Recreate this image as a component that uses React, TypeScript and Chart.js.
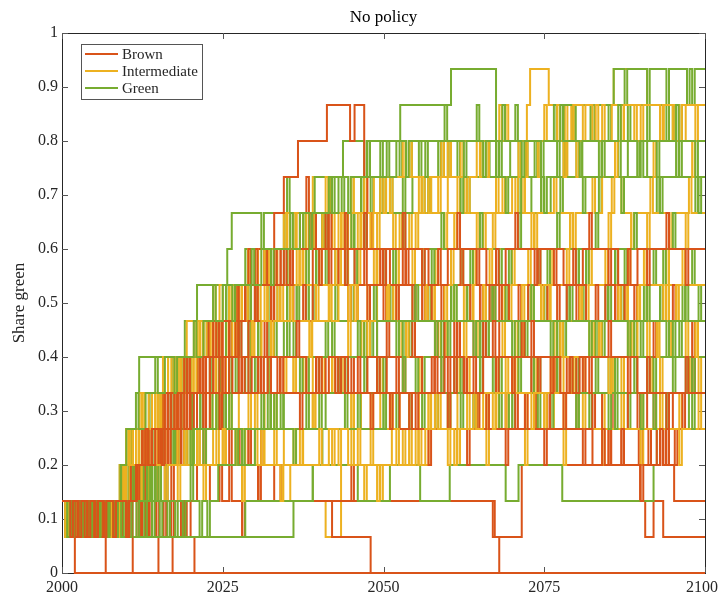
import React, { useEffect, useRef } from "react";
import { Chart, registerables } from "chart.js";

Chart.register(...registerables);

// ---- data -------------------------------------------------------------
// Each run is a list of change points "t:k" (from year 2000 + t the run has
// k green agents out of 15, k written as a hex digit) and brief one-step
// excursions "t!k" (k agents at year 2000 + t, then back to the previous k).
const FIRST_YEAR = 2000;
const LAST_YEAR = 2100;
const AGENTS = 15;
const STEP_YEARS = 0.4;
const xTickValues = [2000, 2025, 2050, 2075, 2100];
const yTickValues = [0, 0.1, 0.2, 0.3, 0.4, 0.5, 0.6, 0.7, 0.8, 0.9, 1];
const legendLabels = ["Brown", "Intermediate", "Green"];
const titleText = "No policy";
const yAxisTitle = "Share green";

const brownRuns = [
  "0:2 .5:1 1:2 1.5:1 2:0",
  "0:2 1:1 1.4:2 2.5!1 3.5:1 4:2 5!1 6:1 6.8:0",
  "0:2 1!1 2.2!1 3:1 3.4:2 4.6!1 5.8!1 7:1 7.5:2 8.5!1 9.5:1 10!2 11:0",
  "0:2 .8!1 3!1 4.5!1 6.3!1 8:1 8.4:2 10!1 11.6!1 13:1 13.5:2 14.7!1 16!3 17!1 18.5:1 19:2 20:1 20.6:0",
  "0:2 1.5!1 3.3!1 5:1 5.3:2 7!1 9!1 10.5!1 12:1 12.3:2 13.6!1 14.5:1 15:0",
  "0:2 2.5!1 4!1 6!1 8!1 10!1 11.5!3 12.5!1 13.2!1 14.5!3 15.8!1 16.8:1 17.2:0",
  "0:2 1!1 3!1 5!1 7!1 9!1 11:3 12.5!2 14:3 15.2!4 16:2 17!3 19!1 21:3 22!4 23:2 24.5!3 26!3 28!1 30.5!3 33:2 42:1 48:0",
  "0:2 2!1 4!1 6!1 8!1 10!1 11.5:3 13!4 14.5:3 16.5!4 18:4 19.5!5 21:5 22!4 23.5!6 25:4 26!3 27.5:3 29!4 30.5!2 32:3 34:2 45!3 67:1 68:0",
  "0:2 1.5!1 3!1 4.5!1 6!1 7.5!1 9!1 11:3 12.5!4 14:4 15!3 16.5:5 18!4 19.5:5 21!6 22:5 23:4 24.5!5 26:4 27.5!3 29:3 31!4 33:2 67.3:1 71.5:3 85!4 89.9:2 90.7:1 92:2 93.5:1",
  "0:2 1!1 3!1 5!1 7!1 9!1 11:3 12.5!4 14:4 15.5!5 17:5 18.5!4 19.5:6 21!5 22.5:6 23.5!7 25:7 26!6 27.5:8 29!9 30:9 31.5!8 33:a 34.5:b 36.7:c 41.2:d 44.8:c 45.5:d 47:b 47.5:a 48.2:9 49.5!8 51:8 52!7 53.5!9 55:7 56.5!8 58!6 59.5:6 61!7 62.5!5 64:7 65.5!6 67!8 68:6 70!5 71.5!7 73:5 74!6 75.5!4 77:6 78.5!5 80:5 81!6 82.5!4 84:4 85.5!5 87!3 88:5 89.5!4 91:4 92!5 93.5!3 95:5 96.5!4 98!6",
  "0:2 2!1 3.5!1 5!1 6.5!1 8!1 10!1 11.8:3 13!4 14.5:4 16!3 17.5:4 19!5 20.5:5 22!4 23:6 24.5!5 26:6 27.5!7 29:7 30!8 31.5!6 33:8 34.5!9 36:7 37.5!8 39:9 40!8 41.5!a 43:8 44.5!7 46:7 47.5!8 49:6 50.5!7 52:6 53!5 54.5!7 56:5 57.5!6 59:6 60!5 61.5!7 63:5 64.5!4 66:5 67.5!6 69:4 70.5!5 72:5 73.5!4 75:5 76.5!6 78:5 80:4 85!3 89.7:3 90.3:4 91.2!3 92.5:3 93:4 94!3 95.3!3",
  "0:2 1!1 2.5!1 4!1 5.5!1 7!1 9!1 10.5!1 12:3 13.5!4 15:4 16.5!3 18:5 19.5!6 21:6 22!5 22.8:7 24!6 25.5:7 27!8 28.5:8 30!9 31:8 32.5!7 34:9 35.5!8 37:9 38.5!a 40:9 41.5!8 43:9 44!a 45.5:8 47!9 48.5:8 50!7 51.5:8 53!9 54.5:7 56!8 57.5:8 59!7 60.5:8 62!9 63.5:7 65!8 66.5:8 68!7 69.5:7 71!8 72.5:8 74!9 75.5:7 77!8 78.5:8 80!7 81.5:7 83!8 84.5:8 86!7 87.5:7 89!8 90.5:7 92!6 93.5:7 95!8 96.5:7 98!6",
  "0:2 1.5!1 3!1 4.5!1 6!1 7.5!1 9!1 10.7:3 12.5!4 14:4 15!3 16.5:4 17.5!5 18.5!3 20:5 21.5!6 23:5 24.5!4 26:6 27.5!5 29:5 30.5!6 32:6 33.5!5 35:6 36.5!7 38:5 39.5!6 41:6 42.5!5 44:5 45!6 46.5:5 48!4 49.5:5 51!4 52.5:4 54!5 55.5:4 57!3 58.5:4 60!5 61.5:4 63!3 64.5:4 66!5 67.5:4 69!3 70.5:4 72!5 73.5:4 75!3 76.5:4 78!5 79.5:4 81!3 82.5:3 84!4 85.5:3 87!4 88.5:3 90!2 91.5:3 93!4 94.5:3 95.2:2",
  "0:2 2!1 3.5!1 5!1 6.5!1 8!1 10!1 11.6:3 13!4 14.5:4 16!5 17.5:5 19!6 20:5 21.5!6 23:6 24.5!7 26:7 27!6 28.5:8 30!7 31.5:8 33!9 34:9 35.5!8 37:a 38!b 39.5:9 41!a 42.5:9 44!8 45.5:9 47!a 48.5:9 50!8 51.5:9 53!a 54.5:9 56!8 57:8 58.5!9 60:9 61.5!a 63:9 64.5!8 66:8 67.5!9 69:9 70.5!a 72:9 73.5!8 75:9 76.5!8 78:8 79.5!9 81:9 82!a 83.5:9 85!8 86.5:8 88!9 89.5:9 91!8 92.5:9 94!a 95.5:9 97!8 98.5:9",
  "0:2 1.3!1 2.6!1 4!1 5.2!1 6.5!1 8!1 10!1 11.5:3 13!4 14:4 15.5!3 16.5!5 18:5 19!4 20.5:5 22!6 23.5:6 25!5 26.5:5 28!6 29.5:6 31!5 32.5:5 34!6 35.5:5 37!4 38.5:5 40!6 41.5:6 43!5 44.5:5 46!6 47.5:6 49!5 50.5:5 52!6 53.5:5 55!4 56.5:5 58!6 59.5:6 61!5 62.5:5 64!6 65.5:6 67!7 68.5:6 70!5 71.5:6 73!7 74.5:6 76!5 77.5:5 79!6 80.5:6 82!5 83.5:6 85!7 86.5:6 88!5 89.5:5 91!6 92.5:5 94!4 95.5:5 97!6 98.5:5",
];

const intermediateRuns = [
  "0:2 1.5!1 3!1 4.5!1 6!1 7.5!1 9.2:3 10!4 11:4 12.5!5 14:5 15!4 16.5:6 18!5 19.5:6 21!7 22:7 23.5!6 25:7 26.5!8 28:8 29!7 30.5:8 32!9 33.5:9 35!8 36:9 37.5!a 38.5:a 39:b 41.7:a 43!9 44.5:9 46!a 47.5:9 49!8 50:9 51.5!a 53:a 54!9 55.5:a 57!b 58:a 59.5!9 61:a 62.5!b 64:a 65.5!9 67:a 68.5!b 70:b 71.5!a 72.3:d 72.8:e 75.7:d 78.2!b 79.2!c 85.8:e 91:d 93.6:c 95!d 97:d 98.5!c",
  "0:2 1!1 2.2!1 3.5!1 5!1 6.5!1 8!1 9.3:3 10.5!4 12:3 13.5!4 15:4 16!3 17.5:3 19!4 20.5:4 22!3 23.5:3 25!4 26.5:3 28!2 29.5:3 31!4 32.5:3 34!2 35.5:2 41:1 43.4:3 45!4 47!2 49.5!2 51.3:4 53!3 54:3 55.5!4 57:4 58.5!5 60:4 61.5!3 63:4 64.5!5 66:5 67.5!4 69:5 70.5!6 72:5 73.5!4 75:5 76.5!6 78:6 79.5!5 81:6 82.5!7 84:6 85.5!5 87:6 88.5!7 90:6 91.5!5 93:6 94.5!7 96:6 97.5!5 99:6",
  "0:2 1.5!1 3!1 4.5!1 6!1 7.5!1 9.6:3 10.5:4 12!3 13:4 14.5!5 15.7:6 17!5 18:6 19.4:7 21!6 22:7 23.5!8 25:8 26!7 27.5:8 29!9 30:9 31.5!8 33:9 34.5!a 36:9 37.5!8 39:a 40.5!9 42:a 43.5!9 45:9 46.5!a 48:a 49.5!b 51:a 52.5!9 54:a 55.5!b 57:b 58.5!a 60:a 61.5!b 63:a 64.5!9 66:a 67.5!b 69:b 70.5!a 72:a 73.5!9 75:a 76.5!b 78:a 79.5!9 81:a 82.5!b 84:b 85.5!a 87:a 88.5!9 90:a 91.5!b 93:a 94.5!9 96:a 97.5!b 99:a",
  "0:2 1!1 2.5!1 4!1 5.5!1 7!1 8.5!1 9.5:3 10.5:4 12!5 13:4 14.5!5 16:5 17.5!6 19:6 20!5 21.5:6 23!7 24:6 25.5!7 27:7 28.5!8 30:7 31.5!8 33:8 34!7 35.5:8 37!9 38.5:8 40!9 41.5:8 43!9 44.5:9 46!8 47.5:9 49!a 50.5:9 52!8 53.5:9 55!a 56.5:9 58!8 59.5:9 61!a 62.5:9 64!8 65.5:9 67!a 68.5:9 70!8 71.5:9 73!a 74.5:9 76!8 77.5:9 79!a 80.5:9 82!8 83.5:9 85!a 86.5:9 88!8 89.5:9 91!a 92.5:9 94!8 95.5:9 97!a 98.5:9",
  "0:2 1.2!1 2.8!1 4.2!1 5.5!1 7!1 8.5!1 9.7:3 11:3 12.5!4 14:4 15.5!5 17:4 18.5!5 20:5 21!6 22.5:5 24!6 25.5:6 27!7 28:6 29.5!7 31:7 32.5!6 34:7 35.5!8 37:7 38.5!6 40:7 41.5!8 43:7 44.5!6 46:7 47.5!8 49:8 50.5!7 52:7 53.5!6 55:7 56.5!8 58:7 59.5!6 61:7 62.5!8 64:8 65.5!7 67:7 68.5!8 70:7 71.5!6 73:7 74.5!8 76:7 77.5!6 79:7 80.5!8 82:7 83.5!6 85:7 86.5!8 88:8 89.5!7 91:7 92.5!6 94:7 95.5!8 97:7 98.5!6",
  "0:2 .8!1 2.2!1 3.5!1 5:2 6.5!1 8:2 9!3 10.5:3 12!2 13:3 14.5!4 16:3 17.5!4 19:4 20!3 21.5:4 23!5 24.5:4 26!5 27.5:5 29!4 30.5:5 32!6 33:5 34.5!6 36:6 37.5!5 39:5 40.5!6 42:6 43.5!5 45:6 46.5!7 48:6 49.5!5 51:6 52.5!7 54:6 55.5!5 57:6 58.5!7 60:6 61.5!5 63:6 64.5!7 66:6 67.5!5 69:6 70.5!7 72:6 73.5!5 75:6 76.5!7 78:6 79.5!5 81:6 82.5!7 84:6 85.5!5 87:6 88.5!7 90:6 91.5!5 93:6 94.5!7 96:6 97.5!5 99:6",
  "0:2 1.5!1 3!1 4.5!1 6!1 7.5!1 9:3 10!4 11:4 12!5 13.5:5 15!4 16:5 17.5!6 19:6 20.5!7 22:7 23!6 24.5:8 26!7 27.5:8 29!9 30.5:9 32!8 33.5:9 35!a 36.5:a 38!9 39.5:a 41!b 42.5:a 44!9 45.5:a 47!b 48.5:b 50!a 51.5:b 53!c 54.5:b 56!a 57.5:b 59!c 60.5:c 62!b 63.5:c 65!b 66.5:c 68!d 69.5:c 71!b 72.5:c 74!b 75.5:c 77!d 78.5:c 80!b 81.5:c 83!d 84.5:c 86!b 87.5:c 89!d 90.5:c 92!b 93.5:c 95!d 96.5:c 98!b",
  "0:2 .6!1 1.8!1 3:2 4.2!1 5.5:2 7!1 8:2 9.5!1 11:2 12!3 13.5:3 15!2 16.5:3 18!4 19.5:4 21!3 22.5:4 24!5 25.5:4 27!3 28.5:4 30!5 31.5:5 33!4 34.5:5 36!6 37.5:5 39!4 40.5:5 42!6 43.5:5 45!4 46.5:4 48!5 49.5:5 51!4 52.5:4 54!5 55.5:5 57!4 58.5:4 60!5 61.5:5 63!6 64.5:5 66!4 67.5:5 69!6 70.5:5 72!4 73.5:4 75!5 76.5:5 78!4 79.5:5 81!6 82.5:5 84!4 85.5:5 87!6 88.5:5 90!4 91.5:5 93!6 94.5:5 96!4 97.5:5 99!6",
  "0:2 1.6!1 3!1 4.2!1 5.5!1 7!1 8.5!1 9.5:3 10!4 11:4 12.5!5 14:5 15.5!4 17:5 18.5!6 20:6 21.5!7 23:6 24.5!7 26:7 27.5!8 29:7 30.5!8 32:8 33.5!7 35:8 36.5!9 38:8 39.5!7 41:8 42.5!9 44:8 45.5!7 47:8 48.5!9 50:8 51.5!7 53:8 54.5!9 56:8 57.5!7 59:8 60.5!9 62:8 63.5!7 65:8 66.5!9 68:8 69.5!7 71:8 72.5!9 74:8 75.5!7 77:8 78.5!9 80:8 81.5!7 83:8 84.5!9 86:8 87.5!7 89:8 90.5!9 92:8 93.5!7 95:8 96.5!9 98:8",
  "0:2 1.2!1 2.6!1 4!1 5.5!1 7!1 8.5!1 9.6:3 11:4 12.5!5 14:5 15!4 16.5:6 18!5 19.5:6 21!7 22.5:7 24!6 25.5:7 27!8 28.5:8 30!9 31.5:9 33!8 34.5:9 36!a 37.5:9 39!a 40.5:a 42!9 43.5:a 45!b 46.5:a 48!9 49.5:b 51!a 52.5:b 54!c 55.5:b 57!a 58.5:b 60!c 61.5:b 63!a 64.5:c 66!b 67.5:c 69!d 70.5:c 72!b 73.5:c 75!d 76.5:c 78!b 79.5:d 81!c 82.5:c 84!d 85.5:d 87!c 88.5:d 90!c 91.5:d 93!c 94.5:d 96!c 97.5:d",
  "0:2 .7!1 1.5!1 2.8!1 4:2 5.3!1 6.5!1 7.8:2 9!3 10.5:3 12!2 13.5:3 15!4 16.5:3 18!2 19.5:3 21!4 22.5:3 24!4 25.5:4 27!3 28.5:3 30!4 31.5:4 33!3 34.5:3 36!4 37.5:4 39!5 40.5:4 42!3 43.5:4 45!5 46.5:4 48!3 49.5:4 51!5 52.5:4 54!3 55.5:4 57!5 58.5:4 60!3 61.5:4 63!5 64.5:4 66!3 67.5:4 69!5 70.5:4 72!3 73.5:4 75!5 76.5:4 78!3 79.5:4 81!5 82.5:4 84!3 85.5:4 87!5 88.5:4 90!3 91.5:4 93!5 94.5:4 96!3 97.5:4 99!5",
  "0:2 1!1 2.3!1 3.6:2 5!1 6.2!1 7.5!1 9!1 10:3 11.5!4 13:4 14.5!3 16:4 17.5!5 19:5 20.5!6 22:5 23.5!6 25:6 26.5!7 28:6 29.5!7 31:7 32.5!6 34:7 35.5!8 37:7 38.5!6 40:7 41.5!8 43:8 44.5!7 46:7 47.5!6 49:7 50.5!8 52:7 53.5!6 55:7 56.5!8 58:8 59.5!7 61:7 62.5!6 64:7 65.5!8 67:7 68.5!6 70:7 71.5!8 73:8 74.5!7 76:7 77.5!6 79:7 80.5!8 82:7 83.5!6 85:7 86.5!8 88:8 89.5!7 91:7 92.5!6 94:7 95.5!8 97:7 98.5!6",
  "0:2 .5!1 1.7!1 3:2 4.5!1 6:2 7.3!1 8.6!1 9.8:3 11.5:3 13!4 14.5:3 16!2 17.5:3 19!4 20.5:3 22!2 23.5:3 25!4 26.5:3 28!2 29.5:3 31!4 32.5:3 34!2 35.5:3 37!4 38.5:3 40!4 41.5:4 43!3 44.5:3 46!4 47.5:3 49!2 50.5:3 52!4 53.5:3 55!4 56.5:4 58!5 59.5:4 61!3 62.5:4 64!5 65.5:5 67!4 68.5:5 70!6 71.5:5 73!4 74.5:5 76!6 77.5:6 79!5 80.5:6 82!7 83.5:6 85!5 86.5:6 88!7 89.5:7 91!6 92.5:7 94!8 95.5:7 97!6 98.5:7",
];

const greenRuns = [
  "0:2 1.5!1 3:2 5!1 7!1 9:3 11:4 12:6 17.3:5 18.5!6 19.1:7 21:8 25.7:9 26.4:a 31!9 35!b 39.3:b 43.7:c 47!b 52.6:d 60.5:e 67.5:c 69.7:b 71!a 73:a 74.5!b 76:b 77.5!a 79:b 80.5!c 82:b 83.5!a 85:b 86.5!c 88:c 89.5!b 91:b 92.5!a 94:b 95.5!c 97:b 98.5!a",
  "0:2 1!1 2.5!1 4:2 6!1 7.5:2 9:3 10.5!4 12:4 13.5!5 15:5 16.5!4 18:5 19.5!6 21:6 22.5!7 24:7 25.5!8 27:8 28.5!9 30:9 31.5!8 33:9 34.5!a 36:9 37.5!a 39:a 40.5!9 42:a 43.5!b 45:b 46.5!a 48:b 49.5!c 51:b 52.5!c 54:c 55.5!b 57:c 58.5!b 60:c 61.5!b 63:c 64.5!d 66:c 67.5!b 69:c 70.5!d 72:c 73.5!b 75:c 76.5!d 78:d 79.5!c 81:d 82.5!c 84:d 85.8:e 87.5!d 91!d 94!d 97.2!d 98!d",
  "0:2 .7!1 2!1 3.4!1 5:2 6.5!1 8:2 9.5:3 11!2 12.5:3 14!4 15.5:4 17!5 18.5:5 20!4 21.5:5 23!6 24.5:6 26!7 27.5:7 29!8 30.5:8 32!7 33.5:8 35!9 36.5:8 38!9 39.5:9 41!a 42.5:9 44!a 45.5:a 47!9 48.5:a 50!b 51.5:a 53!b 54.5:b 56!a 57.5:b 59!c 60.5:b 62!a 63.5:b 65!c 66.5:c 68!b 69.5:c 71!b 72.5:c 74!b 75.5:c 77!b 78.5:c 80!b 82.2:d 85!c 88!c 91!c 94!c 95!c 96!c",
  "0:2 1.3!1 2.6!1 4:2 5.3!1 7:2 9.2:3 10!2 11:3 12.5!4 14:4 15.5!5 17:5 18.5!6 20:6 21!5 22.5:6 24!7 25.5:7 27!8 28.5:8 30!7 31.5:8 33!9 34.5:9 36!a 37.5:9 39!a 40.5:a 42!b 43.5:a 45!9 46.5:a 48!b 49.5:b 51!a 52.5:b 54!c 55.5:b 57!a 58.5:b 60!c 61.5:b 63!a 64.5:b 66!c 67.5:b 69!a 70.5:b 72!c 73.5:b 75!a 76.5:b 78!c 79.5:b 81!a 82.5:b 84!c 85.5:b 87!a 88.5:b 90!c 91.5:b 93!a 94.5:b 96!c 97.5:b 99!a",
  "0:2 .9!1 2.1!1 3.5:2 5!1 6.5:2 8!1 9.5:3 11!2 12.5:3 14!4 15.5:4 17!3 18.5:4 20!5 21.5:5 23!6 24.5:6 26!5 27.5:6 29!7 30.5:7 32!6 33.5:7 35!8 36.5:8 38!7 39.5:8 41!9 42.5:9 44!8 45.5:9 47!a 48.5:9 50!8 51.5:9 53!a 54.5:9 56!8 57.5:9 59!a 60.5:9 62!8 63.5:9 65!a 66.5:9 68!8 69.5:9 71!a 72.5:9 74!8 75.5:9 77!a 78.5:9 80!8 81.5:9 83!a 84.5:9 86!8 87.5:9 89!a 90.5:9 92!8 93.5:9 95!a 96.5:9 98!8",
  "0:2 1.1!1 2.4!1 3.7!1 5:2 6.2!1 7.4!1 8.7:2 10!3 11.3:3 12.8!2 14:3 15.5!4 17:4 18.5!5 20:5 21.5!4 23:5 24.5!6 26:6 27.5!7 29:7 30.5!6 32:7 33.5!8 35:8 36.5!7 38:8 39.5!9 41:8 42.5!7 44:8 45.5!9 47:8 48.5!7 50:8 51.5!9 53:8 54.5!7 56:8 57.5!9 59:8 60.5!7 62:8 63.5!9 65:8 66.5!7 68:8 69.5!9 71:8 72.5!7 74:8 75.5!9 77:8 78.5!7 80:8 81.5!9 83:8 84.5!7 86:8 87.5!9 89:8 90.5!7 92:8 93.5!9 95:8 96.5!7 98:8",
  "0:2 .5!1 1.6!1 2.8!1 4!1 5.2!1 6.4!1 7.6!1 9!1 10.2:1 11:2 12.3!3 13.6:3 15!2 16.5:3 18!4 19.5:4 21!3 22.5:4 24!5 25.5:5 27!6 28.5:6 30!5 31.5:6 33!7 34.5:7 36!6 37.5:7 39!8 40.5:7 42!6 43.5:7 45!8 46.5:7 48!6 49.5:7 51!8 52.5:7 54!6 55.5:7 57!8 58.5:7 60!6 61.5:7 63!8 64.5:7 66!6 67.5:7 69!8 70.5:7 72!6 73.5:7 75!8 76.5:7 78!6 79.5:7 81!8 82.5:7 84!6 85.5:7 87!8 88.5:7 90!6 91.5:7 93!8 94.5:7 96!6 97.5:7 99!8",
  "0:2 .7!1 1.9!1 3.1!1 4.3!1 5.5!1 6.7!1 8:1 8.6:2 10!1 11.2!3 12.5:3 14!2 15.5:3 17!4 18.5:4 20!3 21.5:4 23!5 24.5:5 26!4 27.5:5 29!6 30.5:6 32!5 33.5:6 35!7 36.5:6 38!5 39.5:6 41!7 42.5:6 44!5 45.5:6 47!7 48.5:6 50!5 51.5:6 53!7 54.5:6 56!5 57.5:6 59!7 60.5:6 62!5 63.5:6 65!7 66.5:6 68!5 69.5:6 71!7 72.5:6 74!5 75.5:6 77!7 78.5:6 80!5 81.5:6 83!7 84.5:6 86!5 87.5:6 89!7 90.5:6 92!5 93.5:6 95!7 96.5:6 98!5",
  "0:2 1!1 2.2!1 3.4!1 4.6!1 5.8!1 7!1 8.2!1 9.4:3 10.6!2 12:2 13.3!3 14.6:3 16!2 17.5:3 19!4 20.5:4 22!3 23.5:4 25!5 26.5:4 28!3 29.5:4 31!5 32.5:5 34!4 35.5:5 37!6 38.5:5 40!4 41.5:5 43!6 44.5:5 46!4 47.5:5 49!6 50.5:5 52!4 53.5:5 55!6 56.5:5 58!4 59.5:5 61!6 62.5:5 64!4 65.5:5 67!6 68.5:5 70!4 71.5:5 73!6 74.5:5 76!4 77.5:5 79!6 80.5:5 82!4 83.5:5 85!6 86.5:5 88!4 89.5:5 91!6 92.5:5 94!4 95.5:5 97!6 98.5:5",
  "0:2 1:1 28.5:2 39:3 46:2 51:3 55.7:2 60.3:3 69:2 71:3 77.8:2 92:3 92.5:4 97.5:5",
  "0:2 1:1 36:2 39:3 40.5:4 50:5 54!4 60!4 64!4 69.5:4 75:4 80:5 85!4 90!4 94!4 98!6",
  "0:2 1.2!1 2.5!1 3.8!1 5.1!1 6.4!1 7.7!1 9.1:3 11!2 13!4 15!2 17.6:4 20!3 24!5 28!3 32!5 36!3 41:5 44!4 47!6 50!4 53!6 56!4 59!6 62!4 65!6 68!4 71!6 74!4 77!6 80!4 83!6 86!4 89!6 92!4 95!6 98!4",
  "0:2 .8!1 2!1 3.2!1 4.4!1 5.6!1 6.8!1 8!1 9.2!1 10.4!1 11.6!1 12.8!1 14!1 15.2!1 16.4!1 17.6!1 18.8!1 20!3 21.4!1 22.6!1 24.3:3 27!4 30:4 33!5 34.5:5 38!4 40:6 43!5 46!7 49:7 52!6 55!8 58!6 61!8 64!6 67!8 70!6 73!8 76!6 79!8 82!6 85!8 88!6 91!8 94!6 97!8",
  "0:2 1.4!1 2.8!1 4.2!1 5.5!1 7!1 8.3!1 9.2:3 10:4 11.5!5 13:5 14.5!6 16:6 17.5!5 19:6 20.5!7 22:7 23.5!8 25:8 26.5!7 28:8 29.5!9 31:9 32.5!8 34:9 35.5!a 37:a 38.5!9 40:a 41.5!b 43:b 44.5!a 46:b 47.5!c 49:b 50.5!c 52:c 53.5!b 55:c 56.5!b 58:c 59.5!d 61:c 62.5!b 64:c 65.5!b 67:c 68.5!d 70:c 71.5!b 73:c 74.5!b 76:c 77.5!d 79:c 80.5!b 82:c 83.5!b 85:c 86.5!d 88:c 89.5!b 91:c 92.5!b 94:c 95.5!d 97:c 98.5!b",
];

const COLORS: Record<string, string> = {
  Brown: "#D95319",
  Intermediate: "#EDB120",
  Green: "#77AC30",
};

const FONT = "'Liberation Serif', 'Times New Roman', serif";
const INK = "#262626";

function decodeRun(run: string) {
  const pts: { x: number; y: number }[] = [];
  let level = 0;
  run
    .trim()
    .split(/\s+/)
    .forEach((tok) => {
      const brief = tok.includes("!");
      const [ts, ks] = tok.split(brief ? "!" : ":");
      const x = FIRST_YEAR + parseFloat(ts);
      const k = parseInt(ks, 16);
      pts.push({ x, y: k / AGENTS });
      if (brief) pts.push({ x: x + STEP_YEARS, y: level / AGENTS });
      else level = k;
    });
  pts.push({ x: LAST_YEAR, y: level / AGENTS });
  return pts;
}

function buildDatasets() {
  const groups = [brownRuns, intermediateRuns, greenRuns];
  const n = Math.max(...groups.map((g) => g.length));
  const paintOrder: any[] = [];
  for (let i = 0; i < n; i++) {
    groups.forEach((g, gi) => {
      if (i < g.length) {
        const label = legendLabels[gi];
        paintOrder.push({
          label,
          data: decodeRun(g[i]),
          borderColor: COLORS[label],
          backgroundColor: COLORS[label],
          borderWidth: 2,
          pointRadius: 0,
          pointHoverRadius: 0,
          fill: false,
          stepped: true,
          clip: 4,
        });
      }
    });
  }
  // Chart.js paints the first dataset on top, so reverse the paint order.
  return paintOrder.reverse();
}

const matlabFrame = {
  id: "matlabFrame",
  beforeDatasetsDraw(chart: any) {
    const { ctx, chartArea: a, scales } = chart;
    ctx.save();
    ctx.strokeStyle = INK;
    ctx.lineWidth = 1;
    ctx.strokeRect(a.left + 0.5, a.top + 0.5, a.right - a.left, a.bottom - a.top);
    ctx.strokeStyle = "#555";
    const tl = 6;
    ctx.beginPath();
    xTickValues.forEach((v) => {
      const px = Math.round(scales.x.getPixelForValue(v)) + 0.5;
      ctx.moveTo(px, a.bottom);
      ctx.lineTo(px, a.bottom - tl);
      ctx.moveTo(px, a.top);
      ctx.lineTo(px, a.top + tl);
    });
    yTickValues.forEach((v) => {
      const py = Math.round(scales.y.getPixelForValue(v)) + 0.5;
      ctx.moveTo(a.left, py);
      ctx.lineTo(a.left + tl, py);
      ctx.moveTo(a.right, py);
      ctx.lineTo(a.right - tl, py);
    });
    ctx.stroke();
    ctx.restore();
  },
  afterDraw(chart: any) {
    const { ctx, chartArea: a, scales, width } = chart;
    ctx.save();
    // x tick labels (kept inside the figure like MATLAB does)
    ctx.fillStyle = INK;
    ctx.font = `16px ${FONT}`;
    ctx.textAlign = "center";
    ctx.textBaseline = "top";
    xTickValues.forEach((v) => {
      const label = String(v);
      const w = ctx.measureText(label).width;
      const px = Math.min(scales.x.getPixelForValue(v), width - w / 2 - 1);
      ctx.fillText(label, px, a.bottom + 7);
    });
    // title
    ctx.fillStyle = "#000";
    ctx.font = `17px ${FONT}`;
    ctx.textBaseline = "middle";
    ctx.fillText(titleText, (a.left + a.right) / 2, 18);
    // y axis title
    ctx.fillStyle = INK;
    ctx.translate(20, (a.top + a.bottom) / 2);
    ctx.rotate(-Math.PI / 2);
    ctx.fillText(yAxisTitle, 0, 0);
    ctx.restore();

    // legend
    ctx.save();
    const bx = 81.5, by = 44.5, bw = 121, bh = 55;
    ctx.fillStyle = "#fff";
    ctx.fillRect(bx, by, bw, bh);
    ctx.strokeStyle = "#555";
    ctx.lineWidth = 1;
    ctx.strokeRect(bx, by, bw, bh);
    ctx.font = `15px ${FONT}`;
    ctx.textAlign = "left";
    ctx.textBaseline = "middle";
    legendLabels.forEach((lab, i) => {
      const y = 54 + i * 17;
      ctx.strokeStyle = COLORS[lab];
      ctx.lineWidth = 2;
      ctx.beginPath();
      ctx.moveTo(85, y);
      ctx.lineTo(118, y);
      ctx.stroke();
      ctx.fillStyle = INK;
      ctx.fillText(lab, 122, y + 1);
    });
    ctx.restore();
  },
};

export default function App() {
  const canvasRef = useRef<HTMLCanvasElement | null>(null);

  useEffect(() => {
    document.body.style.margin = "0";
    const canvas = canvasRef.current;
    if (!canvas) return;
    const chart = new Chart(canvas, {
      type: "line",
      data: { datasets: buildDatasets() },
      options: {
        animation: false,
        responsive: false,
        devicePixelRatio: 1,
        events: [],
        layout: { padding: { top: 33, right: 14, left: 0, bottom: 0 } },
        plugins: {
          legend: { display: false },
          tooltip: { enabled: false },
          title: { display: false },
        },
        scales: {
          x: {
            type: "linear",
            min: FIRST_YEAR,
            max: LAST_YEAR,
            grid: { display: false, drawTicks: false },
            border: { display: false },
            afterBuildTicks: (s: any) => {
              s.ticks = xTickValues.map((v) => ({ value: v }));
            },
            afterFit: (s: any) => {
              s.height = 21;
              s.paddingLeft = 0;
              s.paddingRight = 0;
            },
            ticks: { display: false },
          },
          y: {
            type: "linear",
            min: 0,
            max: 1,
            grid: { display: false, drawTicks: false },
            border: { display: false },
            afterBuildTicks: (s: any) => {
              s.ticks = yTickValues.map((v) => ({ value: v }));
            },
            afterFit: (s: any) => {
              s.width = 62;
              s.paddingTop = 0;
              s.paddingBottom = 0;
            },
            ticks: {
              autoSkip: false,
              padding: 4,
              color: INK,
              font: { family: FONT, size: 16 },
              callback: (v: any) => String(Math.round(Number(v) * 10) / 10),
            },
          },
        },
      } as any,
      plugins: [matlabFrame],
    });
    return () => chart.destroy();
  }, []);

  return (
    <div style={{ width: 719, height: 594 }}>
      <canvas ref={canvasRef} width={719} height={594} style={{ display: "block" }} />
    </div>
  );
}
